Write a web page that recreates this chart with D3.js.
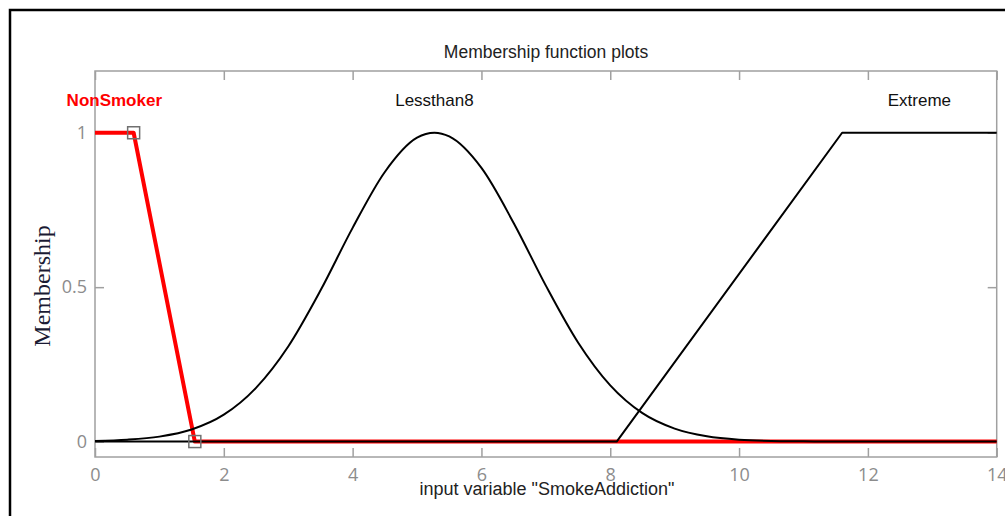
<!DOCTYPE html>
<html>
<head>
<meta charset="utf-8">
<script src="https://cdn.jsdelivr.net/npm/d3@7"></script>
<style>
  body { margin: 0; background: #fff; }
  svg { display: block; }
</style>
</head>
<body>
<svg id="chart" width="1005" height="516"></svg>
<script>
const xTicks = [0, 2, 4, 6, 8, 10, 12, 14]
const yTicks = [0, 0.5, 1]

// membership functions
const nonSmokerX = [0, 0.6, 1.55, 14]
const nonSmokerY = [1, 1, 0, 0]

const lessthan8X = [0, 0.5, 1, 1.5, 2, 2.5, 3, 3.5, 4, 4.5, 5, 5.27, 5.5, 6, 6.5, 7, 7.5, 8, 8.5, 9, 9.5, 10, 10.5, 11, 11.5, 12, 13, 14]
const lessthan8Y = [0.002, 0.006, 0.016, 0.039, 0.087, 0.174, 0.308, 0.489, 0.692, 0.873, 0.984, 1, 0.988, 0.886, 0.708, 0.505, 0.321, 0.182, 0.092, 0.042, 0.017, 0.006, 0.002, 0.001, 0, 0, 0, 0]

const extremeX = [0, 8.1, 11.6, 14]
const extremeY = [0, 0, 1, 1]

const mfNames = ["NonSmoker", "Lessthan8", "Extreme"]
const mfX = [nonSmokerX, lessthan8X, extremeX]
const mfY = [nonSmokerY, lessthan8Y, extremeY]
const mfSmooth = [false, true, false]
const selected = 0   // NonSmoker is highlighted in red

let svg = d3.select("#chart")

// outer window frame
svg.append("rect")
  .attr("x", 10).attr("y", 10)
  .attr("width", 1010).attr("height", 520)
  .attr("fill", "none").attr("stroke", "#000").attr("stroke-width", 2.5)

let x = d3.scaleLinear().domain([0, 14]).range([95, 996.7])
let y = d3.scaleLinear().domain([-0.05, 1.2]).range([457, 71])

let axes = svg.append("g")

axes.append("g").attr("transform", `translate(0,${y.range()[0]})`)
  .call(d3.axisBottom(x).tickValues(xTicks).tickSize(-9).tickPadding(11).tickFormat(d3.format("d")))
axes.append("g").attr("transform", `translate(0,${y.range()[1]})`)
  .call(d3.axisTop(x).tickValues(xTicks).tickSize(-9).tickFormat(""))
axes.append("g").attr("transform", `translate(${x.range()[0]},0)`)
  .call(d3.axisLeft(y).tickValues(yTicks).tickSize(-9).tickPadding(8).tickFormat(d => d))
axes.append("g").attr("transform", `translate(${x.range()[1]},0)`)
  .call(d3.axisRight(y).tickValues(yTicks).tickSize(-9).tickFormat(""))
axes.selectAll(".domain").remove()
axes.selectAll(".tick line").attr("stroke", "#a0a0a0").attr("stroke-width", 1.5)
axes.selectAll(".tick text")
  .attr("font-family", "'Open Sans', sans-serif")
  .attr("font-size", 18)
  .attr("fill", "#8c8c8c")

svg.append("rect")
  .attr("x", x.range()[0]).attr("y", y.range()[1])
  .attr("width", x.range()[1] - x.range()[0])
  .attr("height", y.range()[0] - y.range()[1])
  .attr("fill", "none").attr("stroke", "#a0a0a0").attr("stroke-width", 1.5)

let lineFor = smooth => d3.line()
  .x(d => x(d[0]))
  .y(d => y(d[1]))
  .curve(smooth ? d3.curveMonotoneX : d3.curveLinear)

// red one first so black lines sit on top of it
let order = [selected].concat(mfNames.map((n, i) => i).filter(i => i != selected))
order.forEach(i => {
  let pts = mfX[i].map((v, j) => [v, mfY[i][j]])
  svg.append("path")
    .datum(pts)
    .attr("d", lineFor(mfSmooth[i]))
    .attr("fill", "none")
    .attr("stroke", i == selected ? "#ff0000" : "#000")
    .attr("stroke-width", i == selected ? 4 : 2)
    .attr("stroke-linejoin", "round")
})

// corner handles of the selected function
let handles = mfX[selected].map((v, j) => [v, mfY[selected][j]])
  .filter(d => d[0] > 0 && d[0] < 14)
svg.selectAll(".handle").data(handles).enter().append("rect")
  .attr("class", "handle")
  .attr("x", d => x(d[0]) - 6).attr("y", d => y(d[1]) - 6)
  .attr("width", 12).attr("height", 12)
  .attr("fill", "none").attr("stroke", "#707070").attr("stroke-width", 1.5)

// names above the middle of each function's peak
mfNames.forEach((name, i) => {
  let top = mfX[i].filter((v, j) => mfY[i][j] == 1)
  svg.append("text")
    .attr("x", x(d3.mean(top)))
    .attr("y", y(1.1))
    .attr("text-anchor", "middle")
    .attr("dominant-baseline", "middle")
    .style("font-family", "Arial, 'Liberation Sans', sans-serif")
    .style("font-size", "17px")
    .style("font-weight", i == selected ? "bold" : "normal")
    .attr("fill", i == selected ? "#ff0000" : "#111")
    .text(name)
})

svg.append("text")
  .attr("x", 546).attr("y", 58)
  .attr("text-anchor", "middle")
  .style("font-family", "Arial, 'Liberation Sans', sans-serif")
  .style("font-size", "17.5px")
  .attr("fill", "#222")
  .text("Membership function plots")

svg.append("text")
  .attr("x", 547).attr("y", 495)
  .attr("text-anchor", "middle")
  .style("font-family", "Arial, 'Liberation Sans', sans-serif")
  .style("font-size", "18px")
  .attr("fill", "#222")
  .text('input variable "SmokeAddiction"')

svg.append("text")
  .attr("transform", "translate(50,286) rotate(-90)")
  .attr("text-anchor", "middle")
  .style("font-family", "'Liberation Serif', 'Times New Roman', serif")
  .style("font-size", "24px")
  .attr("fill", "#1a1a33")
  .text("Membership")
</script>
</body>
</html>
